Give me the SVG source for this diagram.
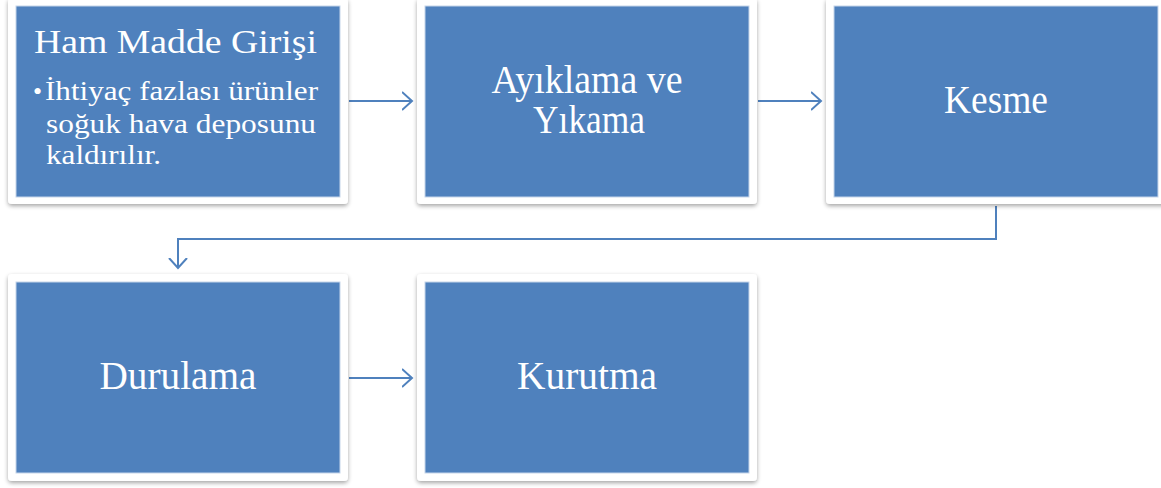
<svg xmlns="http://www.w3.org/2000/svg" width="1161" height="488" viewBox="0 0 1161 488">
<defs>
<filter id="sh" x="-5%" y="-5%" width="110%" height="115%">
<feDropShadow dx="0" dy="2" stdDeviation="2" flood-color="#000" flood-opacity="0.35"/>
</filter>
<marker id="ah" markerWidth="12" markerHeight="20" refX="10" refY="10" orient="auto" markerUnits="userSpaceOnUse" viewBox="0 0 12 20">
<path d="M0,1 L10,10 L0,19" fill="none" stroke="#4F81BD" stroke-width="2"/>
</marker>
<style>
.frame{fill:#fff;filter:url(#sh)}
.fill{fill:#4F81BD;stroke:#c6d5ea;stroke-width:1}
.t{fill:#fff;font-family:"Liberation Serif","Times New Roman",serif}
.lbl{font-size:39px;text-anchor:middle}
.conn{fill:none;stroke:#4F81BD;stroke-width:2;marker-end:url(#ah)}
</style>
</defs>
<g id="connectors">
<path class="conn" d="M349,101 L412,101"/>
<path class="conn" d="M758,101 L821,101"/>
<path class="conn" d="M996,206 L996,239 L178,239 L178,268"/>
<path class="conn" d="M349,378 L412,378"/>
</g>
<g id="node-ham-madde">
<rect class="frame" x="8" y="-2" width="340" height="206" rx="4"/>
<rect class="fill" x="16" y="6" width="324" height="191"/>
<text class="t" x="34" y="53" font-size="34" textLength="283" lengthAdjust="spacingAndGlyphs">Ham Madde Girişi</text>
<text class="t" x="33" y="100" font-size="26">•</text>
<text class="t" x="45" y="100" font-size="28" textLength="273" lengthAdjust="spacingAndGlyphs">İhtiyaç fazlası ürünler</text>
<text class="t" x="46" y="133" font-size="28" textLength="270" lengthAdjust="spacingAndGlyphs">soğuk hava deposunu</text>
<text class="t" x="46" y="164" font-size="28" textLength="115" lengthAdjust="spacingAndGlyphs">kaldırılır.</text>
</g>
<g id="node-ayiklama">
<rect class="frame" x="417" y="-2" width="340" height="206" rx="4"/>
<rect class="fill" x="425" y="6" width="324" height="191"/>
<text class="t lbl" x="587" y="93" textLength="191" lengthAdjust="spacingAndGlyphs">Ayıklama ve</text>
<text class="t lbl" x="589" y="133" textLength="112" lengthAdjust="spacingAndGlyphs">Yıkama</text>
</g>
<g id="node-kesme">
<rect class="frame" x="826" y="-2" width="345" height="206" rx="4"/>
<rect class="fill" x="834" y="6" width="324" height="191"/>
<text class="t lbl" x="996" y="113" textLength="104" lengthAdjust="spacingAndGlyphs">Kesme</text>
</g>
<g id="node-durulama">
<rect class="frame" x="8" y="274" width="340" height="207" rx="4"/>
<rect class="fill" x="16" y="282" width="324" height="191"/>
<text class="t lbl" x="178" y="389" textLength="157" lengthAdjust="spacingAndGlyphs">Durulama</text>
</g>
<g id="node-kurutma">
<rect class="frame" x="417" y="274" width="340" height="207" rx="4"/>
<rect class="fill" x="425" y="282" width="324" height="191"/>
<text class="t lbl" x="587" y="389" textLength="140" lengthAdjust="spacingAndGlyphs">Kurutma</text>
</g>
</svg>
